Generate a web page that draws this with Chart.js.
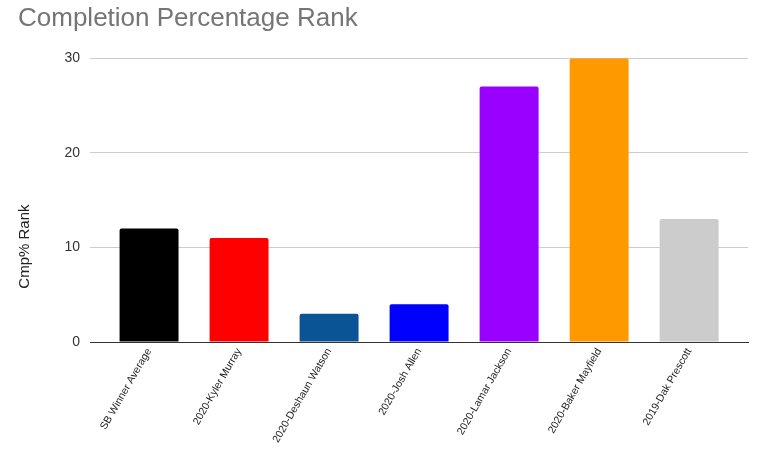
<!DOCTYPE html>
<html>
<head>
<meta charset="utf-8">
<script src="https://cdn.jsdelivr.net/npm/chart.js@4/dist/chart.umd.min.js"></script>
<style>
    html, body { margin: 0; padding: 0; background: #fff; }
    #wrap { width: 757px; height: 459px; position: relative; }
</style>
</head>
<body>
<div id="wrap"><canvas id="rankChart"></canvas></div>
<script>
const players = [
    "SB Winner Average",
    "2020-Kyler Murray",
    "2020-Deshaun Watson",
    "2020-Josh Allen",
    "2020-Lamar Jackson",
    "2020-Baker Mayfield",
    "2019-Dak Prescott"
];
const cmpRank = [12, 11, 3, 4, 27, 30, 13];
const barColors = ["#000000", "#ff0000", "#0b5394", "#0000ff", "#9900ff", "#ff9900", "#cccccc"];
const yTicks = [0, 10, 20, 30];
const yTitle = "Cmp% Rank";

const FONT = "Liberation Sans, Arial, sans-serif";

// sheets centres the y title on the whole plot incl. the labels, so draw it here
const yTitlePlugin = {
    id: "yTitle",
    afterDraw(chart) {
        const c = chart.ctx;
        const area = chart.chartArea;
        c.save();
        c.translate(25, (area.top + chart.height) / 2 - 12);
        c.rotate(-Math.PI / 2);
        c.fillStyle = "#222";
        c.font = "15px " + FONT;
        c.textAlign = "center";
        c.textBaseline = "middle";
        c.fillText(yTitle, 0, 0);
        c.restore();
    }
};

const ctx = document.getElementById("rankChart").getContext("2d");

new Chart(ctx, {
    type: "bar",
    data: {
        labels: players,
        datasets: [{
            label: yTitle,
            data: cmpRank,
            backgroundColor: barColors,
            borderRadius: 2,
            borderSkipped: "bottom",
            categoryPercentage: 1,
            barPercentage: 0.655,
        }]
    },
    plugins: [yTitlePlugin],
    options: {
        responsive: true,
        maintainAspectRatio: false,
        animation: false,
        layout: { padding: { top: 3, left: 18, right: 9, bottom: 10 } },
        plugins: {
            legend: { display: false },
            tooltip: { enabled: false },
            title: {
                display: true,
                text: "Completion Percentage Rank",
                align: "start",
                color: "#757575",
                font: { family: FONT, size: 26, weight: "normal" },
                padding: { top: 0, bottom: 24 }
            }
        },
        scales: {
            x: {
                grid: { display: false, drawTicks: false },
                border: { color: "#333" },
                // widen the outer gap so the bars sit like the sheet's chart
                afterBuildTicks: (scale) => {
                    scale._startValue = -0.656;
                    scale._valueRange = 7.31;
                },
                ticks: {
                    autoSkip: false,
                    minRotation: 60,
                    maxRotation: 60,
                    padding: 4,
                    color: "#222",
                    font: { family: FONT, size: 10.5 }
                }
            },
            y: {
                min: 0,
                max: 30,
                afterFit: (scale) => { scale.width = 72; },
                afterBuildTicks: (scale) => {
                    scale.ticks = yTicks.map(v => ({ value: v }));
                },
                border: { display: false },
                grid: {
                    drawTicks: false,
                    color: (c) => c.tick && c.tick.value === 0 ? "#333" : "#cccccc"
                },
                ticks: {
                    padding: 10,
                    color: "#333",
                    font: { family: FONT, size: 14 }
                }
            }
        }
    }
});
</script>
</body>
</html>
